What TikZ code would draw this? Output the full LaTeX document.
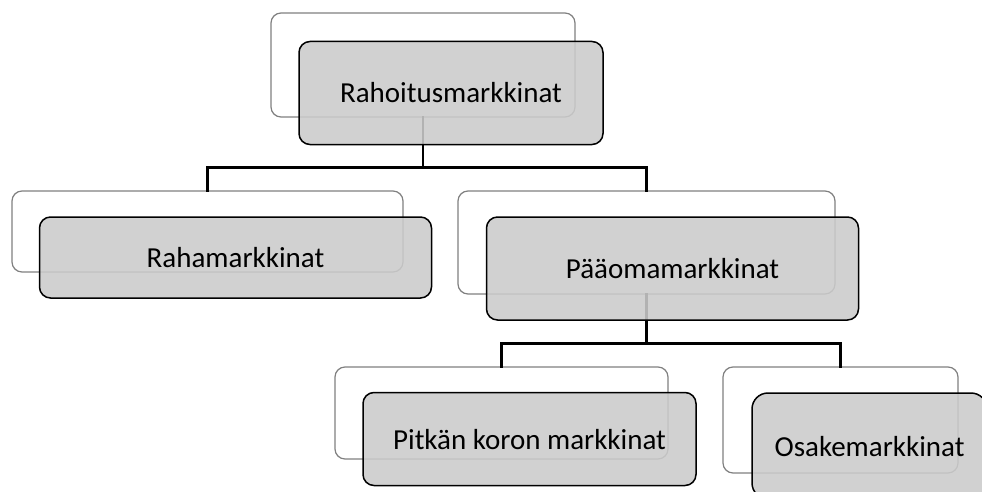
\documentclass[tikz,border=0pt]{standalone}
\usepackage{fontspec}
\setmainfont{Carlito}
\definecolor{backline}{RGB}{128,128,128}
\definecolor{frontfill}{RGB}{203,203,203}
\tikzset{
  backbox/.style={draw=backline, line width=1.2pt, fill=white, rounded corners=10pt, inner sep=0pt},
  frontbox/.style={draw=black, line width=1.5pt, fill=frontfill, fill opacity=0.88, text opacity=1,
    rounded corners=11pt, inner sep=0pt, text height=20pt, text depth=0pt,
    font=\fontsize{29pt}{34pt}\selectfont},
  conn/.style={draw=black, line width=2.4pt, line cap=rect}
}
\begin{document}
\begin{tikzpicture}[x=1pt, y=-1pt]
    \clip (0,0) rectangle (982,492);

    % Back boxes
    \node[backbox, minimum width=304pt, minimum height=104pt] (topB) at (423,65) {};
    \node[backbox, minimum width=391pt, minimum height=81pt] (rahaB) at (207.5,231.5) {};
    \node[backbox, minimum width=377pt, minimum height=103pt] (paaB) at (646.5,242.5) {};
    \node[backbox, minimum width=333pt, minimum height=92pt] (pitkaB) at (501.5,413) {};
    \node[backbox, minimum width=235pt, minimum height=106pt] (osakeB) at (840.5,420) {};

    % Connectors
    \draw[conn] (topB.south) -- ++(0,50) coordinate (bar1);
    \draw[conn] (rahaB.north) |- (bar1) -| (paaB.north);
    \draw[conn] (paaB.south) -- ++(0,49) coordinate (bar2);
    \draw[conn] (pitkaB.north) |- (bar2) -| (osakeB.north);

    % Front boxes with the labels
    \node[frontbox, minimum width=304pt, minimum height=103pt] (topF) at ([shift={(28,28)}]topB.center) {Rahoitusmarkkinat};
    \node[frontbox, minimum width=392pt, minimum height=81pt] (rahaF) at ([shift={(28,26)}]rahaB.center) {Rahamarkkinat};
    \node[frontbox, minimum width=372pt, minimum height=103pt] (paaF) at ([shift={(26,26)}]paaB.center) {Pääomamarkkinat};
    \node[frontbox, minimum width=333pt, minimum height=93pt] (pitkaF) at ([shift={(28,26)}]pitkaB.center) {Pitkän koron markkinat};
    \node[frontbox, rounded corners=16pt, minimum width=235pt, minimum height=106pt] (osakeF) at ([shift={(29,26)}]osakeB.center) {Osakemarkkinat};
\end{tikzpicture}
\end{document}
